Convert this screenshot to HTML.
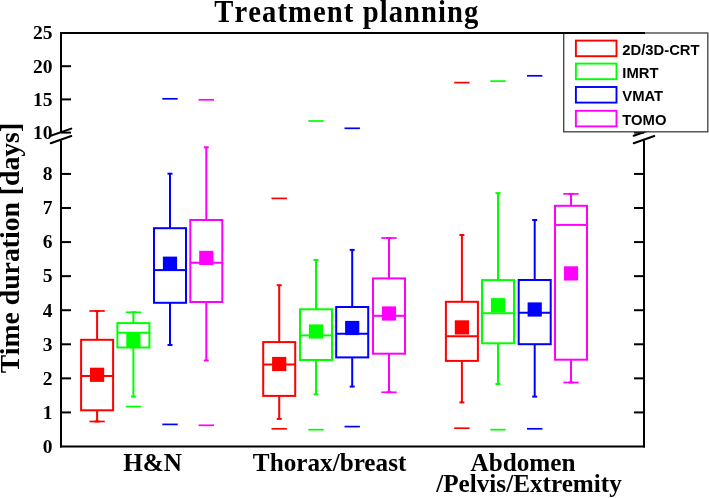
<!DOCTYPE html>
<html><head><meta charset="utf-8"><style>
html,body{margin:0;padding:0;background:#fff;}
body{width:709px;height:498px;overflow:hidden;}
svg{display:block;will-change:transform;}
</style></head><body>
<svg width="709" height="498" viewBox="0 0 709 498">
<rect width="709" height="498" fill="#fff"/>
<g stroke="#000" stroke-width="2" fill="none"><line x1="61" y1="32.0" x2="61" y2="132.3"/><line x1="61" y1="140.2" x2="61" y2="447.5"/><line x1="644" y1="33.0" x2="644" y2="132.3"/><line x1="644" y1="140.2" x2="644" y2="447.5"/><line x1="60" y1="446.5" x2="645" y2="446.5"/><line x1="61" y1="412.43" x2="71" y2="412.43"/><line x1="634" y1="412.43" x2="644" y2="412.43"/><line x1="61" y1="378.36" x2="71" y2="378.36"/><line x1="634" y1="378.36" x2="644" y2="378.36"/><line x1="61" y1="344.29" x2="71" y2="344.29"/><line x1="634" y1="344.29" x2="644" y2="344.29"/><line x1="61" y1="310.22" x2="71" y2="310.22"/><line x1="634" y1="310.22" x2="644" y2="310.22"/><line x1="61" y1="276.15" x2="71" y2="276.15"/><line x1="634" y1="276.15" x2="644" y2="276.15"/><line x1="61" y1="242.08" x2="71" y2="242.08"/><line x1="634" y1="242.08" x2="644" y2="242.08"/><line x1="61" y1="208.01" x2="71" y2="208.01"/><line x1="634" y1="208.01" x2="644" y2="208.01"/><line x1="61" y1="173.94" x2="71" y2="173.94"/><line x1="634" y1="173.94" x2="644" y2="173.94"/><line x1="61" y1="66.20" x2="71" y2="66.20"/><line x1="634" y1="66.20" x2="644" y2="66.20"/><line x1="61" y1="99.40" x2="71" y2="99.40"/><line x1="634" y1="99.40" x2="644" y2="99.40"/><line x1="61" y1="132.60" x2="71" y2="132.60"/><line x1="634" y1="132.60" x2="644" y2="132.60"/><line x1="50.7" y1="135.79999999999998" x2="71.3" y2="128.6" stroke-linecap="round"/><line x1="50.7" y1="143.2" x2="71.3" y2="136.0" stroke-linecap="round"/><line x1="633.7" y1="135.79999999999998" x2="654.3" y2="128.6" stroke-linecap="round"/><line x1="633.7" y1="143.2" x2="654.3" y2="136.0" stroke-linecap="round"/></g>
<g stroke="#ff0000" stroke-width="2" fill="none"><line x1="97.1" y1="311" x2="97.1" y2="339.8"/><line x1="97.1" y1="410.3" x2="97.1" y2="421.5"/><line x1="94.6" y1="311" x2="99.6" y2="311"/><line x1="94.6" y1="421.5" x2="99.6" y2="421.5"/><line x1="89.39999999999999" y1="311" x2="104.8" y2="311" stroke-width="1.7"/><line x1="89.39999999999999" y1="421.5" x2="104.8" y2="421.5" stroke-width="1.7"/><rect x="81.1" y="339.8" width="32.0" height="70.50" fill="none"/><line x1="81.1" y1="376" x2="113.1" y2="376"/></g>
<rect x="90.00" y="367.70" width="14.2" height="14.2" fill="#ff0000"/>
<g stroke="#00ff00" stroke-width="2" fill="none"><line x1="133.4" y1="312.3" x2="133.4" y2="323.1"/><line x1="133.4" y1="347.5" x2="133.4" y2="396.6"/><line x1="130.9" y1="312.3" x2="135.9" y2="312.3"/><line x1="130.9" y1="396.6" x2="135.9" y2="396.6"/><line x1="125.7" y1="312.3" x2="141.1" y2="312.3" stroke-width="1.7"/><line x1="125.7" y1="406.6" x2="141.1" y2="406.6" stroke-width="1.7"/><rect x="117.4" y="323.1" width="32.0" height="24.40" fill="none"/><line x1="117.4" y1="332.8" x2="149.4" y2="332.8"/></g>
<rect x="126.30" y="333.20" width="14.2" height="14.2" fill="#00ff00"/>
<g stroke="#0000ff" stroke-width="2" fill="none"><line x1="170.0" y1="173.7" x2="170.0" y2="228.2"/><line x1="170.0" y1="302.8" x2="170.0" y2="345"/><line x1="167.5" y1="173.7" x2="172.5" y2="173.7"/><line x1="167.5" y1="345" x2="172.5" y2="345"/><line x1="162.3" y1="98.8" x2="177.7" y2="98.8" stroke-width="1.7"/><line x1="162.3" y1="424.4" x2="177.7" y2="424.4" stroke-width="1.7"/><rect x="154.0" y="228.2" width="32.0" height="74.60" fill="none"/><line x1="154.0" y1="270.1" x2="186.0" y2="270.1"/></g>
<rect x="162.90" y="256.60" width="14.2" height="14.2" fill="#0000ff"/>
<g stroke="#ff00ff" stroke-width="2" fill="none"><line x1="206.3" y1="147.3" x2="206.3" y2="220"/><line x1="206.3" y1="302" x2="206.3" y2="360.5"/><line x1="203.8" y1="147.3" x2="208.8" y2="147.3"/><line x1="203.8" y1="360.5" x2="208.8" y2="360.5"/><line x1="198.60000000000002" y1="99.8" x2="214.0" y2="99.8" stroke-width="1.7"/><line x1="198.60000000000002" y1="425.3" x2="214.0" y2="425.3" stroke-width="1.7"/><rect x="190.3" y="220" width="32.0" height="82.00" fill="none"/><line x1="190.3" y1="262.8" x2="222.3" y2="262.8"/></g>
<rect x="199.20" y="250.80" width="14.2" height="14.2" fill="#ff00ff"/>
<g stroke="#ff0000" stroke-width="2" fill="none"><line x1="279.2" y1="285.2" x2="279.2" y2="342.1"/><line x1="279.2" y1="395.9" x2="279.2" y2="418.9"/><line x1="276.7" y1="285.2" x2="281.7" y2="285.2"/><line x1="276.7" y1="418.9" x2="281.7" y2="418.9"/><line x1="271.5" y1="198.4" x2="286.9" y2="198.4" stroke-width="1.7"/><line x1="271.5" y1="428.8" x2="286.9" y2="428.8" stroke-width="1.7"/><rect x="263.2" y="342.1" width="32.0" height="53.80" fill="none"/><line x1="263.2" y1="364.5" x2="295.2" y2="364.5"/></g>
<rect x="272.10" y="356.90" width="14.2" height="14.2" fill="#ff0000"/>
<g stroke="#00ff00" stroke-width="2" fill="none"><line x1="316.0" y1="259.9" x2="316.0" y2="309.3"/><line x1="316.0" y1="360" x2="316.0" y2="394.3"/><line x1="313.5" y1="259.9" x2="318.5" y2="259.9"/><line x1="313.5" y1="394.3" x2="318.5" y2="394.3"/><line x1="308.3" y1="121" x2="323.7" y2="121" stroke-width="1.7"/><line x1="308.3" y1="429.7" x2="323.7" y2="429.7" stroke-width="1.7"/><rect x="300.0" y="309.3" width="32.0" height="50.70" fill="none"/><line x1="300.0" y1="335.4" x2="332.0" y2="335.4"/></g>
<rect x="308.90" y="324.40" width="14.2" height="14.2" fill="#00ff00"/>
<g stroke="#0000ff" stroke-width="2" fill="none"><line x1="352.2" y1="249.9" x2="352.2" y2="307"/><line x1="352.2" y1="357.4" x2="352.2" y2="386.6"/><line x1="349.7" y1="249.9" x2="354.7" y2="249.9"/><line x1="349.7" y1="386.6" x2="354.7" y2="386.6"/><line x1="344.5" y1="128.3" x2="359.9" y2="128.3" stroke-width="1.7"/><line x1="344.5" y1="426.6" x2="359.9" y2="426.6" stroke-width="1.7"/><rect x="336.2" y="307" width="32.0" height="50.40" fill="none"/><line x1="336.2" y1="333.7" x2="368.2" y2="333.7"/></g>
<rect x="345.10" y="320.90" width="14.2" height="14.2" fill="#0000ff"/>
<g stroke="#ff00ff" stroke-width="2" fill="none"><line x1="389.0" y1="238" x2="389.0" y2="278.4"/><line x1="389.0" y1="353.7" x2="389.0" y2="392.3"/><line x1="386.5" y1="238" x2="391.5" y2="238"/><line x1="386.5" y1="392.3" x2="391.5" y2="392.3"/><line x1="381.3" y1="238" x2="396.7" y2="238" stroke-width="1.7"/><line x1="381.3" y1="392.3" x2="396.7" y2="392.3" stroke-width="1.7"/><rect x="373.0" y="278.4" width="32.0" height="75.30" fill="none"/><line x1="373.0" y1="315.8" x2="405.0" y2="315.8"/></g>
<rect x="381.90" y="306.40" width="14.2" height="14.2" fill="#ff00ff"/>
<g stroke="#ff0000" stroke-width="2" fill="none"><line x1="461.9" y1="235" x2="461.9" y2="301.8"/><line x1="461.9" y1="360.9" x2="461.9" y2="402.4"/><line x1="459.4" y1="235" x2="464.4" y2="235"/><line x1="459.4" y1="402.4" x2="464.4" y2="402.4"/><line x1="454.2" y1="82.6" x2="469.59999999999997" y2="82.6" stroke-width="1.7"/><line x1="454.2" y1="428.2" x2="469.59999999999997" y2="428.2" stroke-width="1.7"/><rect x="445.9" y="301.8" width="32.0" height="59.10" fill="none"/><line x1="445.9" y1="336.2" x2="477.9" y2="336.2"/></g>
<rect x="454.80" y="320.30" width="14.2" height="14.2" fill="#ff0000"/>
<g stroke="#00ff00" stroke-width="2" fill="none"><line x1="498.0" y1="193.1" x2="498.0" y2="280.1"/><line x1="498.0" y1="343.3" x2="498.0" y2="384"/><line x1="495.5" y1="193.1" x2="500.5" y2="193.1"/><line x1="495.5" y1="384" x2="500.5" y2="384"/><line x1="490.3" y1="81.1" x2="505.7" y2="81.1" stroke-width="1.7"/><line x1="490.3" y1="429.7" x2="505.7" y2="429.7" stroke-width="1.7"/><rect x="482.0" y="280.1" width="32.0" height="63.20" fill="none"/><line x1="482.0" y1="313.2" x2="514.0" y2="313.2"/></g>
<rect x="490.90" y="298.10" width="14.2" height="14.2" fill="#00ff00"/>
<g stroke="#0000ff" stroke-width="2" fill="none"><line x1="534.7" y1="220" x2="534.7" y2="280"/><line x1="534.7" y1="344.2" x2="534.7" y2="396.6"/><line x1="532.2" y1="220" x2="537.2" y2="220"/><line x1="532.2" y1="396.6" x2="537.2" y2="396.6"/><line x1="527.0" y1="75.8" x2="542.4000000000001" y2="75.8" stroke-width="1.7"/><line x1="527.0" y1="428.8" x2="542.4000000000001" y2="428.8" stroke-width="1.7"/><rect x="518.7" y="280" width="32.0" height="64.20" fill="none"/><line x1="518.7" y1="312.7" x2="550.7" y2="312.7"/></g>
<rect x="527.60" y="302.40" width="14.2" height="14.2" fill="#0000ff"/>
<g stroke="#ff00ff" stroke-width="2" fill="none"><line x1="571.0" y1="193.9" x2="571.0" y2="205.8"/><line x1="571.0" y1="359.7" x2="571.0" y2="382.5"/><line x1="568.5" y1="193.9" x2="573.5" y2="193.9"/><line x1="568.5" y1="382.5" x2="573.5" y2="382.5"/><line x1="563.3" y1="193.9" x2="578.7" y2="193.9" stroke-width="1.7"/><line x1="563.3" y1="382.5" x2="578.7" y2="382.5" stroke-width="1.7"/><rect x="555.0" y="205.8" width="32.0" height="153.90" fill="none"/><line x1="555.0" y1="224.9" x2="587.0" y2="224.9"/></g>
<rect x="563.90" y="266.30" width="14.2" height="14.2" fill="#ff00ff"/>
<rect x="563.7" y="33.0" width="144.1" height="98.8" fill="#fff" stroke="#444" stroke-width="1.35"/><rect x="575.9" y="40.6" width="40.6" height="15.6" fill="none" stroke="#ff0000" stroke-width="1.9"/><text x="622.3" y="54.5" font-family="Liberation Sans" font-weight="bold" font-size="14.8" fill="#000">2D/3D-CRT</text><rect x="575.9" y="63.6" width="40.6" height="15.6" fill="none" stroke="#00ff00" stroke-width="1.9"/><text x="622.3" y="77.5" font-family="Liberation Sans" font-weight="bold" font-size="14.8" fill="#000">IMRT</text><rect x="575.9" y="87.0" width="40.6" height="15.6" fill="none" stroke="#0000ff" stroke-width="1.9"/><text x="622.3" y="100.9" font-family="Liberation Sans" font-weight="bold" font-size="14.8" fill="#000">VMAT</text><rect x="575.9" y="110.8" width="40.6" height="15.6" fill="none" stroke="#ff00ff" stroke-width="1.9"/><text x="622.3" y="124.7" font-family="Liberation Sans" font-weight="bold" font-size="14.8" fill="#000">TOMO</text>
<line x1="60" y1="33.0" x2="645" y2="33.0" stroke="#000" stroke-width="2"/>
<g font-family="Liberation Serif" font-weight="bold" font-size="19.5" fill="#000"><text x="52.5" y="452.80" text-anchor="end">0</text><text x="52.5" y="418.73" text-anchor="end">1</text><text x="52.5" y="384.66" text-anchor="end">2</text><text x="52.5" y="350.59" text-anchor="end">3</text><text x="52.5" y="316.52" text-anchor="end">4</text><text x="52.5" y="282.45" text-anchor="end">5</text><text x="52.5" y="248.38" text-anchor="end">6</text><text x="52.5" y="214.31" text-anchor="end">7</text><text x="52.5" y="180.24" text-anchor="end">8</text><text x="52.5" y="39.30" text-anchor="end">25</text><text x="52.5" y="72.50" text-anchor="end">20</text><text x="52.5" y="105.70" text-anchor="end">15</text><text x="52.5" y="138.90" text-anchor="end">10</text></g>

<text transform="translate(346.4,21.6) scale(0.93,1)" x="0" y="0" text-anchor="middle" font-family="Liberation Serif" font-weight="bold" font-size="30.8" style="font-kerning:none" textLength="284" lengthAdjust="spacing">Treatment planning</text>
<text transform="translate(19.0,248) rotate(-90)" text-anchor="middle" font-family="Liberation Serif" font-weight="bold" font-size="27.7">Time duration [days]</text>
<g font-family="Liberation Serif" font-weight="bold" font-size="25.2" text-anchor="middle">
<text x="152.6" y="470.8">H&amp;N</text>
<text x="329.6" y="470.8">Thorax/breast</text>
<text x="523" y="470.8">Abdomen</text>
<text x="529" y="492.2">/Pelvis/Extremity</text>
</g>

</svg>
</body></html>
